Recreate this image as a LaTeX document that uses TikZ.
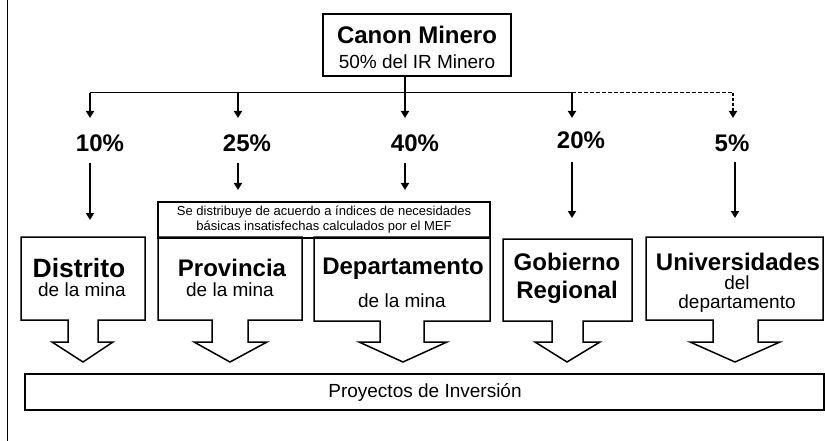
\documentclass[tikz,border=0pt]{standalone}
\usepackage{fontspec}
\setmainfont{Liberation Sans}
\usetikzlibrary{arrows.meta}

\begin{document}
\begin{tikzpicture}[x=1pt,y=-1pt,every node/.style={inner sep=0pt, align=center}, every path/.style={line width=1.5pt},
  big/.style={font=\fontsize{24}{28}\selectfont\bfseries},
  small/.style={font=\fontsize{19}{19}\selectfont},
  tiny/.style={font=\fontsize{13}{15}\selectfont},
  flow/.style={line width=2pt, -{Triangle[width=8pt,length=7pt]}}]
\useasboundingbox (0,0) rectangle (825,441);

\coordinate (S) at (405,76);
\coordinate (A) at (90,93);
\coordinate (B) at (238,93);
\coordinate (D) at (572,93);
\coordinate (E) at (733,93);
\coordinate (A') at (90,118);
\coordinate (B') at (238,118);
\coordinate (C') at (405,118);
\coordinate (D') at (572,118);
\coordinate (E') at (733,118);
\coordinate (F) at (90,163);
\coordinate (G) at (238,163);
\coordinate (H) at (405,163);
\coordinate (I) at (572,162);
\coordinate (J) at (735,162);
\coordinate (F') at (90,220);
\coordinate (G') at (238,190);
\coordinate (H') at (405,190);
\coordinate (I') at (572,218);
\coordinate (J') at (735,218);

\draw (7.5,0) -- (7.5,441); % frame

\draw (323,14) rectangle (511,76);
\node[big] (canon) at (417,35) {Canon Minero};
\node[small] (ir) at (417,62) {50\% del IR Minero};
%
\draw[line width=1pt] (A) -- (D);
\draw[line width=1pt, dash pattern=on 4pt off 2pt] (D) -- (E);
\draw[flow] (S) -- (C');
\draw[flow] (A) -- (A');
\draw[flow] (B) -- (B');
\draw[flow] (D) -- (D');
\draw[flow, dash pattern=on 3pt off 2pt] (E) -- (E');
%
\node[big] (p10) at (100,143) {10\%};
\node[big] (p25) at (247,143) {25\%};
\node[big] (p40) at (415,143) {40\%};
\node[big] (p20) at (581,140) {20\%};
\node[big] (p5) at (732,143) {5\%};
%
\draw[flow] (F) -- (F');
\draw[flow] (G) -- (G');
\draw[flow] (H) -- (H');
\draw[flow] (I) -- (I');
\draw[flow] (J) -- (J');
%
\draw (158,202) rectangle (490,238);
\node[tiny] (nbi) at (324,220) {Se distribuye de acuerdo a índices de necesidades\\básicas insatisfechas calculados por el MEF};
%
\draw (21,237) -- (145,237) -- (145,320) -- (98,320) -- (98,342) -- (113,342) -- (83,362) -- (52,342) -- (68,342) -- (68,320) -- (21,320) -- cycle; %1
\draw (158,237) -- (302,237) -- (302,320) -- (248,320) -- (248,342) -- (267,342) -- (230,362) -- (194,342) -- (212,342) -- (212,320) -- (158,320) -- cycle; %2
\draw (314,237) -- (490,237) -- (490,321) -- (424,321) -- (424,342) -- (447,342) -- (403,362) -- (359,342) -- (380,342) -- (380,321) -- (314,321) -- cycle; %3
\draw (503,239) -- (632,239) -- (632,321) -- (583,321) -- (583,342) -- (600,342) -- (567,362) -- (535,342) -- (552,342) -- (552,321) -- (503,321) -- cycle; %4
\draw (646,237) -- (823,237) -- (823,320) -- (758,320) -- (758,342) -- (780,342) -- (735,362) -- (690,342) -- (713,342) -- (713,320) -- (646,320) -- cycle; %5
%
\node[big, font=\fontsize{26.5}{28}\selectfont\bfseries] (dist) at (79,268) {Distrito};
\node[small] (dist2) at (82,290) {de la mina};
\node[big] (prov) at (232,268) {Provincia};
\node[small] (prov2) at (230,290) {de la mina};
\node[big] (dep) at (403,269) {Departamento};
\node[small] (dep2) at (402,301) {de la mina};
\node[big] (gob) at (567,278) {Gobierno\\Regional};
\node[big] (uni) at (738,262) {Universidades};
\node[small] (uni2) at (737,294) {del\\departamento};
%
\draw (25,374) rectangle (824,410);
\node[small] (proy) at (425,392) {Proyectos de Inversión};
\end{tikzpicture}
\end{document}
